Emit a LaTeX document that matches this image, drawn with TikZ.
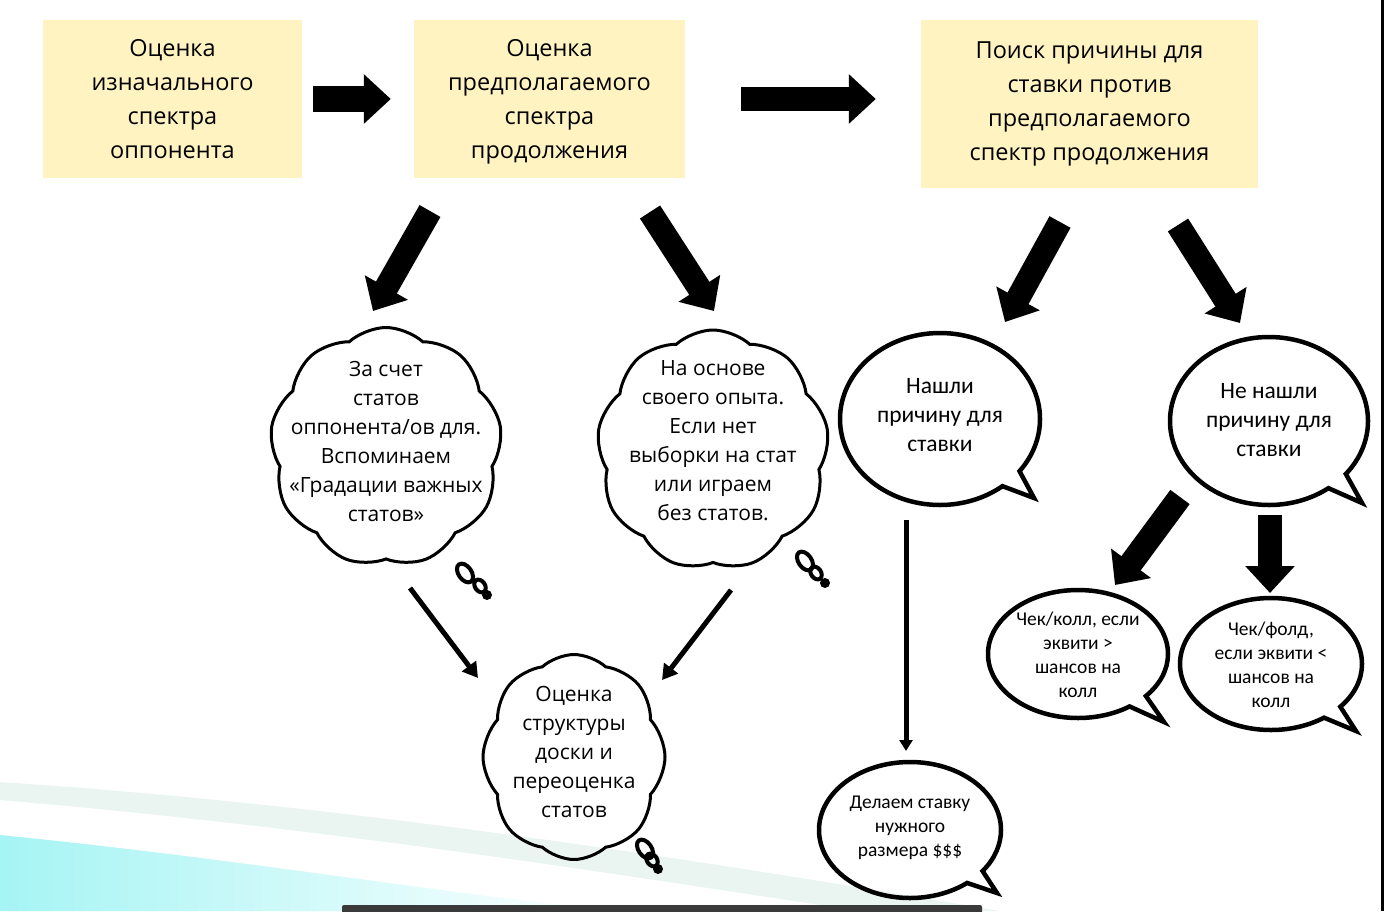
\documentclass[tikz,border=0pt]{standalone}
\usepackage{fontspec}
\setmainfont{Open Sans}
\newfontfamily\callfont{Carlito}
\usetikzlibrary{arrows.meta,shapes.symbols,shapes.callouts,calc}
\definecolor{boxfill}{HTML}{FFF3C1}
\definecolor{sky}{HTML}{A6F4F4}
\definecolor{band}{HTML}{EAF5F1}
\definecolor{darkbar}{HTML}{3A3A3A}

\begin{document}
\begin{tikzpicture}[x=1pt,y=-1pt,
  box/.style={fill=boxfill,inner sep=0pt,align=center,font=\fontsize{23.5}{34}\selectfont},
  cloudbox/.style={cloud,draw,line width=3pt,cloud puffs=9,cloud puff arc=85,inner sep=0pt},
  cltext/.style={align=center,font=\fontsize{21}{29}\selectfont},
  bubble/.style={ellipse callout,draw,line width=4.5pt,inner sep=0pt,callout pointer arc=14},
  bbtext/.style={align=center,font=\callfont\fontsize{23.5}{29}\selectfont},
  smtext/.style={align=center,font=\callfont\fontsize{19.5}{24}\selectfont},
  blk/.style={line width=24pt,-{Triangle[length=27pt,width=48pt]}},
  thin/.style={line width=5pt,-{Triangle[length=15pt,width=17pt]}}]
\useasboundingbox (0,0) rectangle (1384,911);
% slide background
\fill[band] (0,782) .. controls (350,805) and (700,860) .. (1000,911) -- (0,911) -- cycle;
\fill[white] (0,800) .. controls (350,830) and (650,880) .. (860,911) -- (0,911) -- cycle;
\shade[left color=sky,right color=white] (0,835) .. controls (250,860) and (450,895) .. (620,911) -- (0,911) -- cycle;
\fill (1381,0) rectangle (1384,911);
\fill[darkbar,rounded corners=2pt] (342,905) rectangle (982,915);
% top row
\node[box,minimum width=259pt,minimum height=158pt] (o1) at (172.5,99)
  {Оценка\\изначального\\спектра\\оппонента};
\node[box,minimum width=271pt,minimum height=158pt,text depth=0pt] (o2) at (549.5,99)
  {Оценка\\предполагаемого\\спектра\\продолжения};
\node[box,minimum width=337pt,minimum height=168pt] (o3) at (1089.5,104)
  {Поиск причины для\\ставки против\\предполагаемого\\спектр продолжения};
\draw[blk,line width=26pt,shorten <=11pt,shorten >=23pt] (o1.east) -- (o2.west);
\draw[blk,shorten <=56pt,shorten >=45pt] (o2.east) -- (o3.west|-o2.east);
% thoughts
\node[cloudbox,minimum width=232pt,minimum height=239pt,
  label={[cltext,yshift=6pt]center:{За счет\\статов\\оппонента/ов для.\\Вспоминаем\\«Градации важных\\статов»}}] (c1) at (386,447) {};
\node[cloudbox,minimum width=232pt,minimum height=240pt,
  label={[cltext,yshift=9pt]center:{На основе\\своего опыта.\\Если нет\\выборки на стат\\или играем\\без статов.}}] (c2) at (713,450) {};
\node[cloudbox,cloud puffs=8,minimum width=182pt,minimum height=205pt,
  label={[cltext,yshift=5pt]center:{Оценка\\структуры\\доски и\\переоценка\\статов}}] (c3) at (574,757) {};
\foreach \xa/\ya/\xb/\yb/\xc/\yc in {465/573/480/586/487/595, 805/561/816/573/825/583, 645/849/652/860/658/869} {
  \draw[line width=4pt,rotate around={35:(\xa,\ya)}] (\xa,\ya) ellipse (6.5pt and 10.5pt);
  \draw[line width=4pt,rotate around={35:(\xb,\yb)}] (\xb,\yb) ellipse (5pt and 7pt);
  \fill (\xc,\yc) circle (5pt);
}
% speech bubbles
\node[bubble,minimum width=200pt,minimum height=172pt,callout absolute pointer={(1034,498)},
  label={[bbtext,yshift=4pt]center:{Нашли\\причину для\\ставки}}] (b1) at (940,419) {};
\node[bubble,minimum width=198pt,minimum height=168pt,callout absolute pointer={(1362,503)},
  label={[bbtext,yshift=1pt]center:{Не нашли\\причину для\\ставки}}] (b2) at (1269,421) {};
\node[bubble,minimum width=180pt,minimum height=128pt,callout absolute pointer={(1164,722)},
  label={[smtext,yshift=-1pt]center:{Чек/колл, если\\эквити >\\шансов на\\колл}}] (b3) at (1078,654) {};
\node[bubble,minimum width=182pt,minimum height=132pt,callout absolute pointer={(1356,731)},
  label={[smtext,yshift=-1pt]center:{Чек/фолд,\\если эквити <\\шансов на\\колл}}] (b4) at (1271,664) {};
\node[bubble,minimum width=182pt,minimum height=136pt,callout absolute pointer={(997,893)},
  label={[smtext,yshift=2pt]center:{Делаем ставку\\нужного\\размера \$\$\$}}] (b5) at (910,830) {};
% block arrows down
\coordinate (d1a) at (430,211); \coordinate (d1b) at (373,311);
\coordinate (d2a) at (650,212); \coordinate (d2b) at (714,311);
\coordinate (d3a) at (1060,222); \coordinate (d3b) at (1005,322);
\coordinate (d4a) at (1178,225); \coordinate (d4b) at (1240,323);
\coordinate (d5a) at (1180,497); \coordinate (d5b) at (1115,585);
\coordinate (d6a) at (1270,515); \coordinate (d6b) at (1270,593);
\foreach \n in {d1,d2,d3,d4,d5,d6} {\draw[blk] (\n a) -- (\n b);}
% thin arrows
\coordinate (t1a) at (410,588); \coordinate (t1b) at (478,678);
\coordinate (t2a) at (731,590); \coordinate (t2b) at (662,680);
\coordinate (t3a) at (906,520); \coordinate (t3b) at (906,751);
\foreach \n in {t1,t2} {\draw[thin] (\n a) -- (\n b);}
\draw[thin,-{Triangle[length=11pt,width=13pt]}] (t3a) -- (t3b);
\end{tikzpicture}
\end{document}
